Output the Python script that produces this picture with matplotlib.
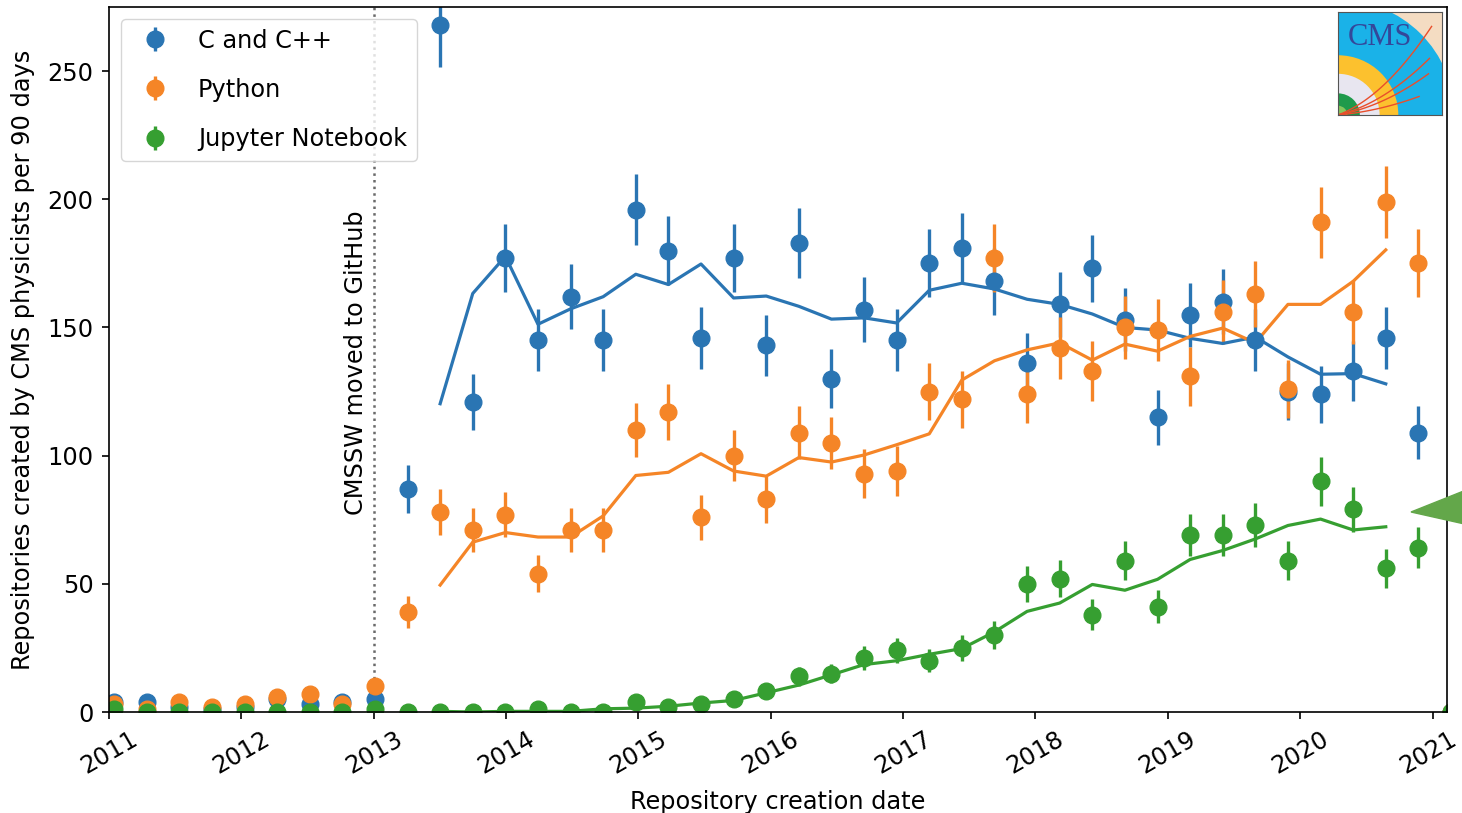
import matplotlib
import matplotlib.pyplot as plt
import matplotlib.dates as mdates
import matplotlib.transforms as mtransforms
from matplotlib.patches import Wedge, Polygon
import numpy as np
import pandas as pd

matplotlib.use("Agg")

# new repositories per 90-day bin, first bin centred mid January 2011
first_bin = "2011-01-15"
languages = ["C and C++", "Python", "Jupyter Notebook"]
cpp = [4, 4, 2, 1, 2, 5, 3, 4, 5, 87, 268, 121, 177, 145, 162, 145, 196,
       180, 146, 177, 143, 183, 130, 157, 145, 175, 181, 168, 136, 159,
       173, 153, 115, 155, 160, 145, 125, 124, 133, 146, 109, 0]
python = [3, 1, 4, 2, 3, 6, 7, 3, 10, 39, 78, 71, 77, 54, 71, 71, 110,
          117, 76, 100, 83, 109, 105, 93, 94, 125, 122, 177, 124, 142,
          133, 150, 149, 131, 156, 163, 126, 191, 156, 199, 175, 0]
jupyter = [1, 0, 0, 0, 0, 0, 0, 0, 1, 0, 0, 0, 0, 1, 0, 0, 4, 2, 3, 5,
           8, 14, 15, 21, 24, 20, 25, 30, 50, 52, 38, 59, 41, 69, 69, 73,
           59, 90, 79, 56, 64, 0]
github_move = "2013-01-01"

W, H = 1462, 813
FS = 17.3


def smooth(counts, lo=10, hi=40):
    """Rolling mean over four bins (two before, one after)."""
    c = np.asarray(counts, dtype=float)
    return np.array([c[i - 2:i + 2].mean() for i in range(lo, hi)])


def draw_logo(fig):
    logo = fig.add_axes([1338 / W, 1 - 115 / H, 104 / W, 103 / H])
    logo.set_xlim(0, 1)
    logo.set_ylim(0, 1)
    logo.set_xticks([])
    logo.set_yticks([])
    logo.set_facecolor("#f4dcc2")
    for r, c in [(1.12, "#1ab2e8"), (0.58, "#fcc12e"), (0.40, "#e8e6f0"),
                 (0.21, "#1f9a4b"), (0.09, "#86c65c")]:
        logo.add_patch(Wedge((0, 0), r, 0, 90, color=c, lw=0))
    t = np.linspace(0, 1, 40)
    for ex, ey in [(0.90, 0.86), (0.88, 0.55), (0.87, 0.40), (0.78, 0.18)]:
        cx, cy = ex * 0.5, ey * 0.2
        bx = 2 * (1 - t) * t * cx + t ** 2 * ex
        by = 2 * (1 - t) * t * cy + t ** 2 * ey
        logo.plot(bx, by, color="#e94e2b", lw=1.0)
    logo.text(0.40, 0.75, "CMS", color="#34479a", fontsize=22,
              family="Liberation Serif", ha="center", va="center")
    for s in logo.spines.values():
        s.set_color("#555555")
        s.set_linewidth(0.8)


def main():
    dates = pd.date_range(first_bin, periods=len(cpp), freq="90D")
    colors = ["#2a75b3", "#f58527", "#369f31"]

    fig = plt.figure(figsize=(W / 100, H / 100), dpi=100)
    ax = fig.add_axes([109 / W, 1 - 712 / H, 1338 / W, 705 / H])

    for name, counts, c in zip(languages, [cpp, python, jupyter], colors):
        counts = np.asarray(counts)
        ax.errorbar(dates, counts, yerr=np.sqrt(counts), fmt="o", color=c,
                    markersize=12, elinewidth=2.4, label=name)
    for counts, c in zip([cpp, python, jupyter], colors):
        ax.plot(dates[10:40], smooth(counts), color=c, lw=2.3)

    ax.axvline(pd.Timestamp(github_move), color="#6a6a6a", ls=":", lw=1.8,
               zorder=1)
    ax.annotate("CMSSW moved to GitHub", xy=(pd.Timestamp(github_move), 77),
                xytext=(-4, 0), textcoords="offset points", rotation=90,
                ha="right", va="bottom", fontsize=FS)

    ax.set_xlim(pd.Timestamp("2011-01-01"), pd.Timestamp("2021-02-10"))
    ax.set_ylim(0, 275)
    ax.set_yticks([0, 50, 100, 150, 200, 250])
    ax.xaxis.set_major_locator(mdates.YearLocator())
    ax.xaxis.set_major_formatter(mdates.DateFormatter("%Y"))
    ax.tick_params(axis="both", labelsize=FS, length=5, width=1.2, pad=6)
    ax.tick_params(axis="x", labelrotation=30)
    for s in ax.spines.values():
        s.set_linewidth(1.2)

    # keep the last year label inside the canvas
    fig.canvas.draw()
    last = ax.get_xticklabels()[-1]
    shift = mtransforms.ScaledTranslation(-4 / 100, 0, fig.dpi_scale_trans)
    last.set_transform(last.get_transform() + shift)

    ax.set_xlabel("Repository creation date", fontsize=FS, labelpad=8)
    ax.set_ylabel("Repositories created by CMS physicists per 90 days",
                  fontsize=FS, labelpad=9)
    ax.legend(loc="upper left", fontsize=FS, labelspacing=1.05)

    draw_logo(fig)
    arrow = Polygon([(1411 / W, 1 - 512 / H), (1.02, 1 - 480 / H),
                     (1.02, 1 - 530 / H)], closed=True,
                    transform=fig.transFigure, color="#63a74a", zorder=5)
    fig.add_artist(arrow)

    fig.savefig("out.png", dpi=100)
    return 0


if __name__ == "__main__":
    main()
